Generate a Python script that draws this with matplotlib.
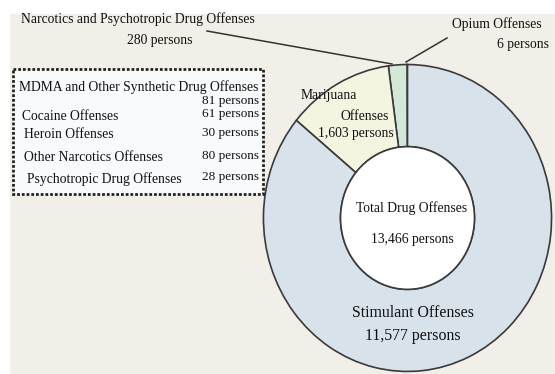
import matplotlib.pyplot as plt
from matplotlib.patches import Rectangle

# Datos
categorias = ['Opium Offenses', 'Narcotics and Psychotropic Drug Offenses',
              'Marijuana Offenses', 'Stimulant Offenses']
personas = [6, 280, 1603, 11577]
total = 13466
colores = ['#cfe3d3', '#d3e8d6', '#f4f5e1', '#d8e2eb']

detalle_nombres = ['MDMA and Other Synthetic Drug Offenses', 'Cocaine Offenses',
                   'Heroin Offenses', 'Other Narcotics Offenses', 'Psychotropic Drug Offenses']
detalle_personas = [81, 61, 30, 80, 28]

W, H = 555, 374
fig = plt.figure(figsize=(W / 100, H / 100), dpi=100)
plt.rcParams['font.family'] = 'Liberation Serif'

# Fondo en coordenadas de pixel
bg = fig.add_axes([0, 0, 1, 1], zorder=0)
bg.set_xlim(0, W)
bg.set_ylim(H, 0)
bg.axis('off')
bg.add_patch(Rectangle((10, 14), W - 10, H - 14, facecolor='#f2efe8', edgecolor='none'))

# Donut
x0, x1, y0, y1 = 262, 553, 63, 373
pie_ax = fig.add_axes([x0 / W, 1 - y1 / H, (x1 - x0) / W, (y1 - y0) / H], zorder=1)
r_in = 0.465
pie_ax.pie(personas, colors=colores, startangle=90, counterclock=True, radius=1,
           wedgeprops=dict(width=1 - r_in, edgecolor='#3a3a3a', linewidth=1.2))
pie_ax.pie([total], colors=['white'], radius=r_in,
           wedgeprops=dict(edgecolor='#3a3a3a', linewidth=1.2))
pie_ax.set_aspect('auto')
pie_ax.set_xlim(-1.01, 1.01)
pie_ax.set_ylim(-1.01, 1.01)
pie_ax.axis('off')

# Capa de textos
ov = fig.add_axes([0, 0, 1, 1], zorder=2)
ov.set_xlim(0, W)
ov.set_ylim(H, 0)
ov.axis('off')
ov.patch.set_alpha(0)

txt = dict(color='#111111', fontsize=9.8)
txt_box = dict(color='#111111', fontsize=9.5)

# Etiquetas superiores
ov.text(138, 19, categorias[1], ha='center', va='center', **txt)
ov.text(160, 40, f'{personas[1]} persons', ha='center', va='center', **txt)
ov.plot([207, 392], [31, 64], color='#333333', lw=1.1)

ov.text(497, 24, categorias[0], ha='center', va='center', **txt)
ov.text(549, 44, f'{personas[0]} persons', ha='right', va='center', **txt)
ov.plot([406, 447], [62, 38], color='#333333', lw=1.1)

# Marihuana
ov.text(301, 95, 'Marijuana', ha='left', va='center', **txt)
ov.text(389, 116, 'Offenses', ha='right', va='center', **txt)
ov.text(394, 133, f'{personas[2]:,} persons', ha='right', va='center', **txt)

# Total y estimulantes
ov.text(412, 208, 'Total Drug Offenses', ha='center', va='center', **txt)
ov.text(412, 239, f'{total:,} persons', ha='center', va='center', **txt)
ov.text(413, 313, 'Stimulant Offenses', ha='center', va='center', color='#111111', fontsize=11.4)
ov.text(413, 336, f'{personas[3]:,} persons', ha='center', va='center', color='#111111', fontsize=11.4)

# Recuadro de detalle
ov.add_patch(Rectangle((13, 69), 250, 125, facecolor='#f9fafb', edgecolor='#222222',
                       linestyle=(0, (1, 0.7)), linewidth=2.0))
ov.text(19, 87.5, detalle_nombres[0], ha='left', va='center', **txt)
ov.text(259, 100.5, f'{detalle_personas[0]} persons', ha='right', va='center', **txt_box)
filas_y = [114.5, 133, 156, 177.5]
indent = [22, 24, 24, 27]
for nombre, n, y, xi in zip(detalle_nombres[1:], detalle_personas[1:], filas_y, indent):
    ov.text(xi, y + 1.5, nombre, ha='left', va='center', **txt)
    ov.text(259, y - 0.5, f'{n} persons', ha='right', va='center', **txt_box)

plt.savefig('out.png', dpi=100)
